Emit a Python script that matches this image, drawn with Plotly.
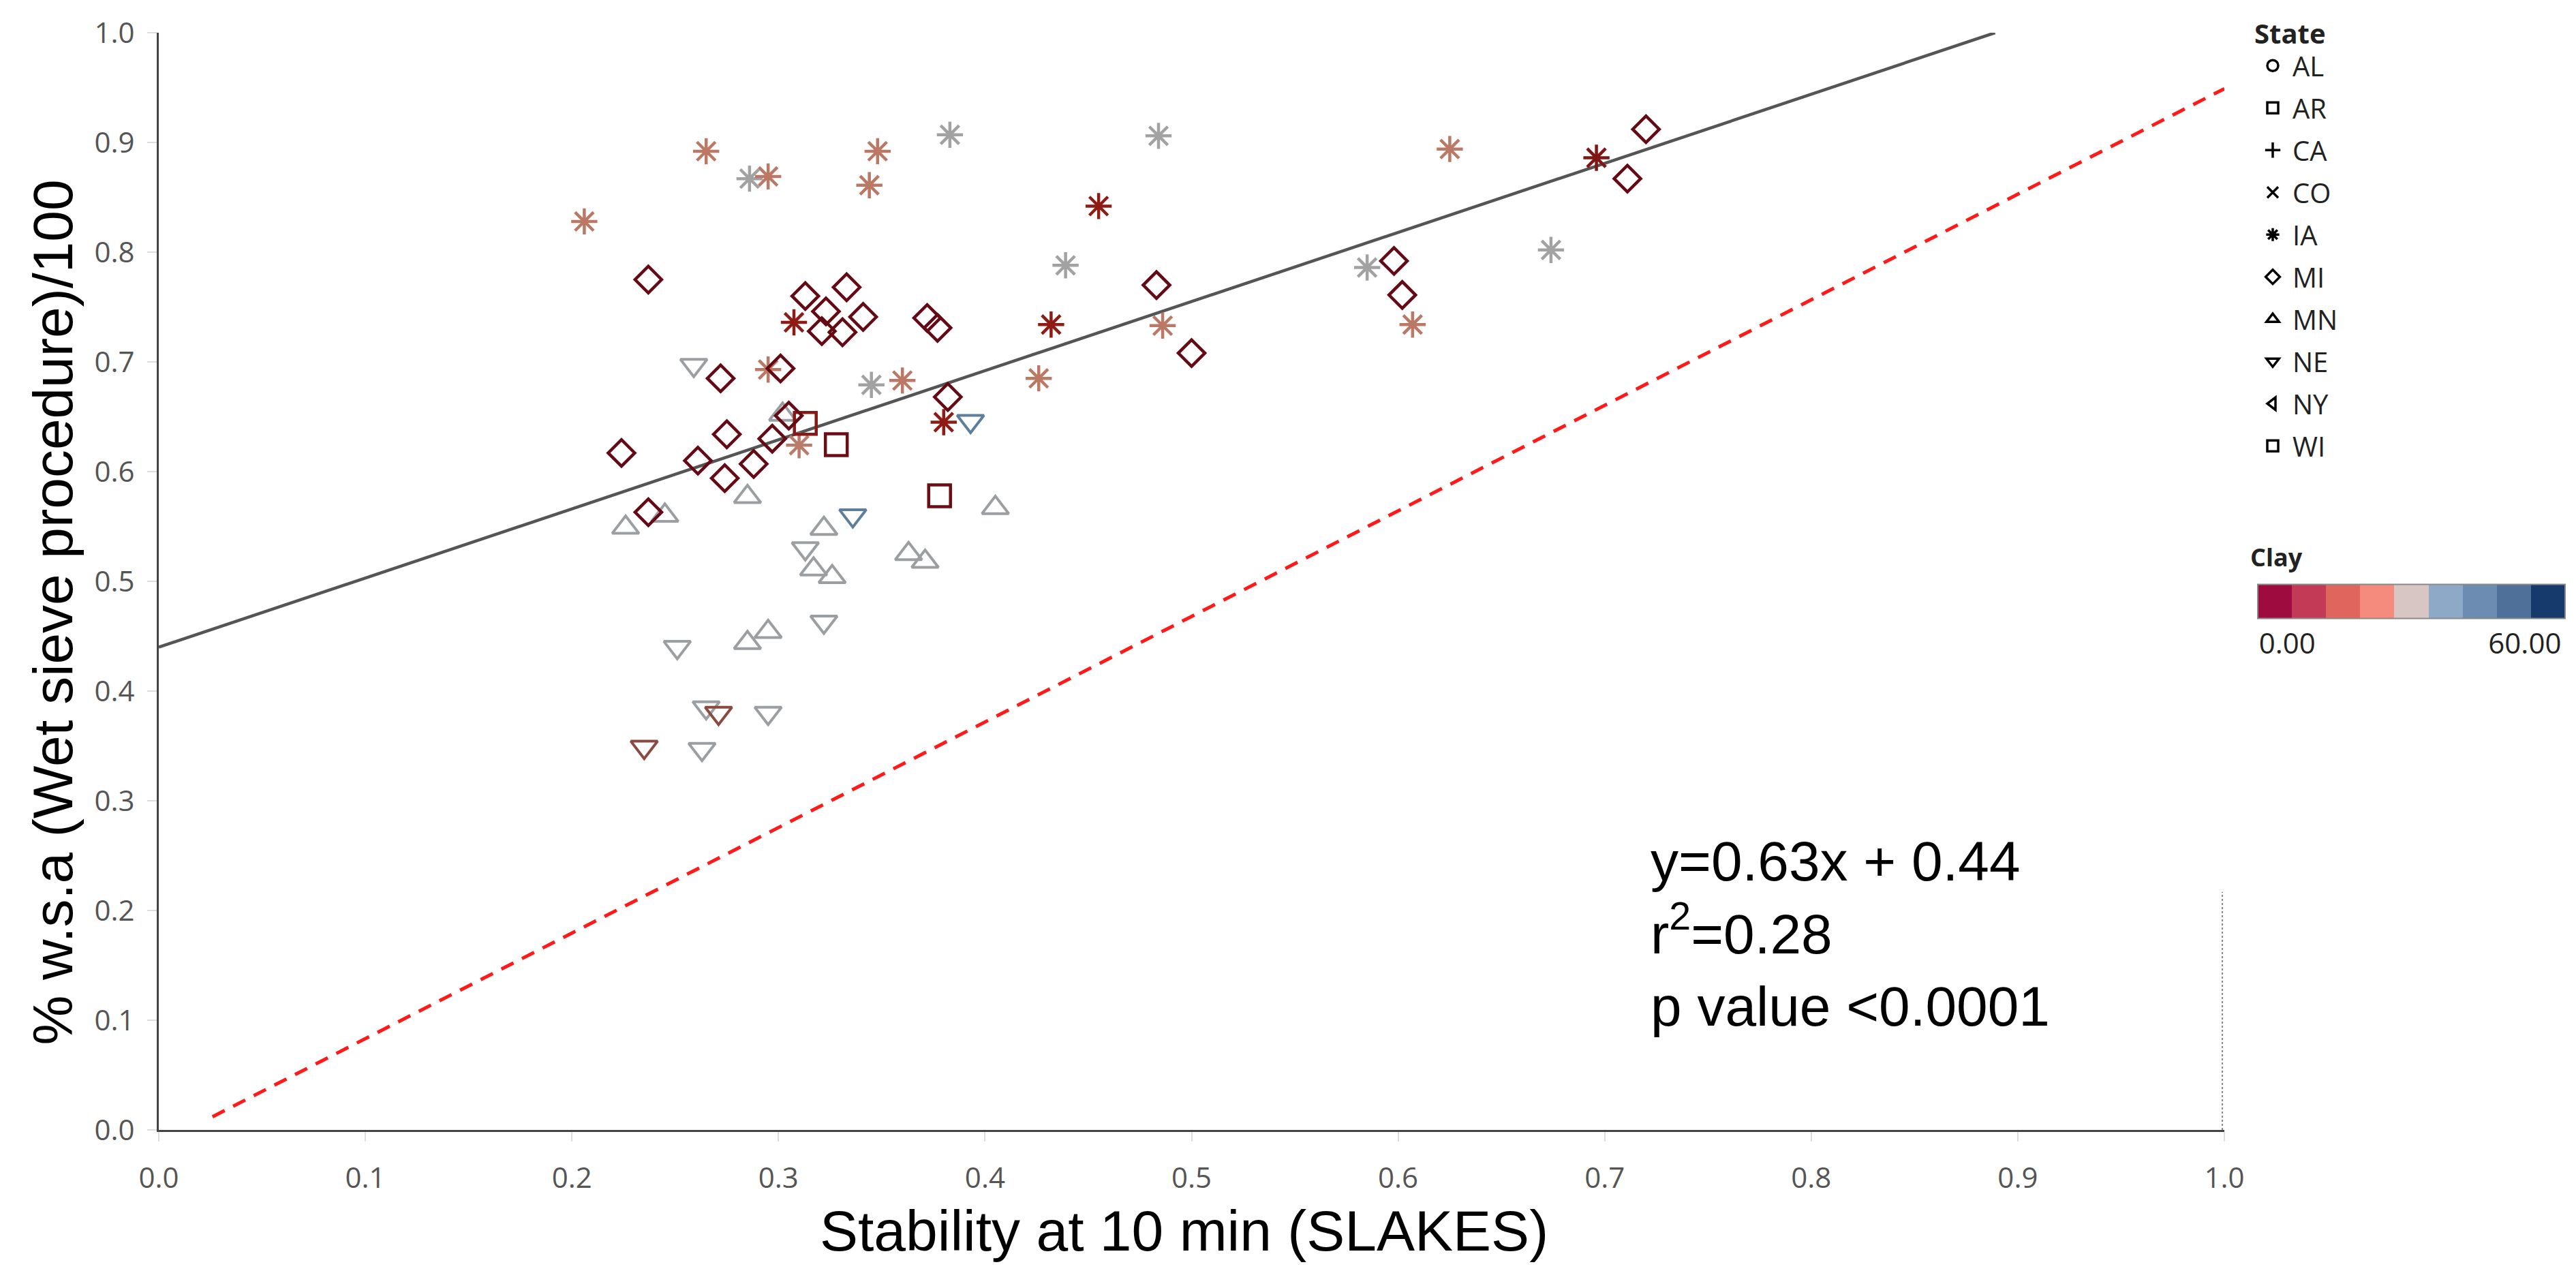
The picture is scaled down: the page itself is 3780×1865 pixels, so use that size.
import plotly.graph_objects as go

# ---------------- data ----------------
states = ["AL", "AR", "CA", "CO", "IA", "MI", "MN", "NE", "NY", "WI"]
state_symbols = ["circle-open", "square-open", "cross-thin-open", "x-thin-open",
                 "asterisk-open", "diamond-open", "triangle-up-open",
                 "triangle-down-open", "triangle-left-open", "square-open"]

ia_x = [0.206, 0.265, 0.286, 0.295, 0.348, 0.344, 0.383, 0.484, 0.455, 0.439, 0.3075, 0.432,
        0.486, 0.345, 0.360, 0.426, 0.380, 0.295, 0.310, 0.625, 0.585, 0.607, 0.674, 0.696]
ia_y = [0.828, 0.892, 0.867, 0.869, 0.892, 0.861, 0.907, 0.906, 0.842, 0.788, 0.736, 0.734,
        0.733, 0.679, 0.683, 0.685, 0.645, 0.693, 0.624, 0.894, 0.786, 0.734, 0.802, 0.886]
ia_clay = [19, 19, 30, 19, 19, 19, 30, 30, 9, 30, 9, 9,
           19, 30, 19, 19, 9, 19, 20, 19, 30, 19, 30, 7]

mi_x = [0.237, 0.313, 0.333, 0.323, 0.341, 0.321, 0.331, 0.372, 0.377, 0.272, 0.301, 0.305, 0.275,
        0.297, 0.224, 0.261, 0.274, 0.288, 0.237, 0.382, 0.483, 0.500, 0.598, 0.602, 0.720, 0.711]
mi_y = [0.775, 0.760, 0.768, 0.746, 0.741, 0.728, 0.727, 0.740, 0.731, 0.685, 0.694, 0.651, 0.634,
        0.630, 0.617, 0.610, 0.594, 0.607, 0.563, 0.668, 0.770, 0.708, 0.792, 0.761, 0.912, 0.867]
mi_clay = [3] * 26

mn_x = [0.226, 0.245, 0.285, 0.322, 0.317, 0.326, 0.295, 0.285, 0.363, 0.371, 0.405, 0.302]
mn_y = [0.549, 0.560, 0.577, 0.548, 0.511, 0.504, 0.454, 0.444, 0.525, 0.518, 0.567, 0.652]
mn_clay = [31] * 12

ne_x = [0.259, 0.336, 0.393, 0.313, 0.322, 0.251, 0.265, 0.271, 0.295, 0.235, 0.263]
ne_y = [0.697, 0.560, 0.646, 0.530, 0.463, 0.440, 0.385, 0.380, 0.380, 0.349, 0.347]
ne_clay = [31, 42, 42, 31, 31, 31, 31, 14, 31, 14, 31]

wi_x = [0.313, 0.328, 0.378]
wi_y = [0.644, 0.6245, 0.578]
wi_clay = [8, 4, 4]

fit_x = [0.0, 0.889]          # y = 0.63x + 0.44
fit_y = [0.44, 1.0]
ref_x = [0.026, 1.0]          # dashed reference line
ref_y = [0.012, 0.949]

clay_range = [0, 60]
clay_ticktext = ["0.00", "60.00"]

# ---------------- layout helpers (pixel -> plot fraction) ----------------
W, H = 3780, 1865
L, R, T, B = 233, 516, 15, 207
PW, PH = W - L - R, H - T - B


def fx(px):
    return (px - L) / PW


def fy(py):
    return (H - B - py) / PH


# ---------------- styles ----------------
marker_scale = [[0.0, "#4d0610"], [0.05, "#650a14"], [0.15, "#8e1c14"], [0.233, "#8a4a40"],
                [0.317, "#bb7864"], [0.5, "#a2a2a2"], [0.7, "#5e7e9e"], [1.0, "#1c3a6a"]]
bar_colors = ["#9e0b3f", "#c23a55", "#e0655d", "#f58b7c", "#d8c6c4",
              "#8ea8c8", "#6d8cb2", "#4f7098", "#173a6c"]
bar_scale = []
for i, c in enumerate(bar_colors):
    bar_scale.append([i / 9, c])
    bar_scale.append([(i + 1) / 9, c])

# colour-key labels sit inside the bar ends (left/right aligned like the original)
span = clay_range[1] - clay_range[0]
clay_label_at = [clay_range[0] + 0.097 * span, clay_range[1] - 0.13 * span]

sym_style = {
    "asterisk-open": dict(size=32, lw=4.5),
    "diamond-open": dict(size=30, lw=4.5),
    "triangle-up-open": dict(size=34, lw=4),
    "triangle-down-open": dict(size=34, lw=4),
    "square-open": dict(size=32, lw=4.5),
}

fig = go.Figure()

fig.add_trace(go.Scatter(x=fit_x, y=fit_y, mode="lines", showlegend=False, hoverinfo="skip",
                         line=dict(color="#555555", width=4.5)))
fig.add_trace(go.Scatter(x=ref_x, y=ref_y, mode="lines", showlegend=False, hoverinfo="skip",
                         line=dict(color="#ff1a1a", width=5, dash="20px,14px")))

series = [("IA", ia_x, ia_y, ia_clay), ("MN", mn_x, mn_y, mn_clay), ("NE", ne_x, ne_y, ne_clay),
          ("WI", wi_x, wi_y, wi_clay), ("MI", mi_x, mi_y, mi_clay)]
for st, xs, ys, cl in series:
    sym = state_symbols[states.index(st)]
    s = sym_style[sym]
    fig.add_trace(go.Scatter(
        x=xs, y=ys, mode="markers", name=st, showlegend=False, legendgroup=st,
        marker=dict(symbol=sym, size=s["size"], color=cl, colorscale=marker_scale,
                    cmin=clay_range[0], cmax=clay_range[1], showscale=False,
                    line=dict(width=s["lw"]))))

# colour key for clay
fig.add_trace(go.Scatter(
    x=[None, None], y=[None, None], mode="markers", showlegend=False, hoverinfo="skip",
    marker=dict(color=clay_range, cmin=clay_range[0], cmax=clay_range[1], colorscale=bar_scale,
                showscale=True,
                colorbar=dict(orientation="h", x=fx(3538), xanchor="center",
                              y=fy(897), yanchor="middle",
                              len=451, lenmode="pixels", thickness=50, thicknessmode="pixels",
                              outlinewidth=2, outlinecolor="#8a8a8a", xpad=0, ypad=0,
                              tickvals=clay_label_at, ticktext=clay_ticktext, ticks="",
                              tickfont=dict(family="Open Sans", size=42, color="#222")))))

# state legend entries
for st, sym in zip(states, state_symbols):
    fig.add_trace(go.Scatter(x=[None], y=[None], mode="markers", name=st, legendgroup=st,
                             showlegend=True,
                             marker=dict(symbol=sym, size=16, color="black",
                                         line=dict(width=3.5, color="black"))))

axis_common = dict(range=[0, 1], dtick=0.1, tickformat=".1f", showgrid=False, zeroline=False,
                   showline=True, linecolor="#444444", linewidth=3, ticks="outside",
                   ticklen=14, tickwidth=2, tickcolor="#dddddd", ticklabeloverflow="allow",
                   tickfont=dict(family="Open Sans", size=42, color="#555555"))

fig.update_layout(
    width=W, height=H,
    margin=dict(l=L, r=R, t=T, b=B),
    paper_bgcolor="white", plot_bgcolor="white",
    xaxis=dict(**axis_common, ticklabelstandoff=18),
    yaxis=dict(**axis_common, ticklabelstandoff=10),
    showlegend=True,
    legend=dict(title=dict(text="<b>State</b>", font=dict(family="Open Sans", size=40, color="#222")),
                x=fx(3306), y=fy(-22), xanchor="left", yanchor="top",
                font=dict(family="Open Sans", size=40, color="#222"),
                tracegroupgap=7, bgcolor="rgba(0,0,0,0)", itemwidth=48),
    shapes=[dict(type="line", xref="x", yref="y", x0=0.999, x1=0.999, y0=0, y1=0.217,
                 line=dict(color="#888888", width=2, dash="dot"))],
    annotations=[
        dict(text="% w.s.a (Wet sieve procedure)/100", textangle=-90, xref="paper", yref="paper",
             x=fx(78), y=fy(883), xanchor="center", yanchor="middle", showarrow=False,
             font=dict(family="Liberation Sans", size=82, color="black")),
        dict(text="Stability at 10 min (SLAKES)", xref="paper", yref="paper",
             x=fx(1737), y=fy(1809), xanchor="center", yanchor="middle", showarrow=False,
             font=dict(family="Liberation Sans", size=84, color="black")),
        dict(text="y=0.63x + 0.44<br>r<sup>2</sup>=0.28<br>p value <0.0001", xref="paper",
             yref="paper", x=fx(2420), y=fy(1207), xanchor="left", yanchor="top",
             align="left", showarrow=False,
             font=dict(family="Liberation Sans", size=82, color="black")),
        dict(text="<b>Clay</b>", xref="paper", yref="paper", x=fx(3300), y=fy(800),
             xanchor="left", yanchor="middle", showarrow=False,
             font=dict(family="Open Sans", size=36, color="#222")),
    ],
)

fig.write_html("out.html")
